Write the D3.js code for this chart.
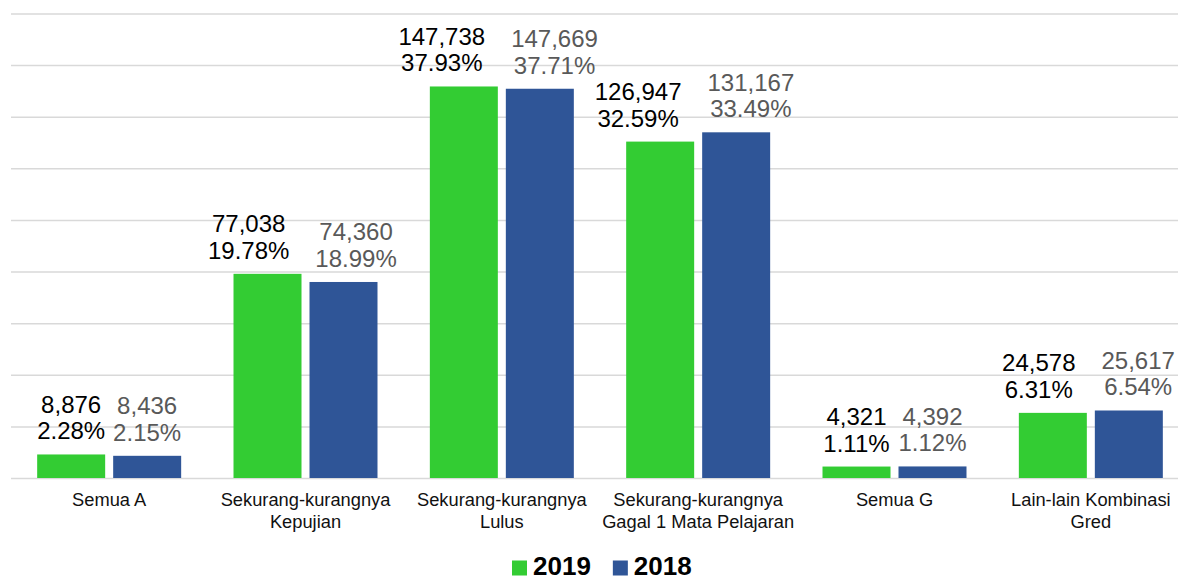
<!DOCTYPE html>
<html>
<head>
<meta charset="utf-8">
<script src="https://cdn.jsdelivr.net/npm/d3@7"></script>
<style>
  body { margin: 0; background: #fff; }
  svg { display: block; font-family: "Liberation Sans", Arial, sans-serif; }
  .grid line { stroke: #d9d9d9; stroke-width: 1.5; }
  .grid path { display: none; }
</style>
</head>
<body>
<svg id="chart" width="1178" height="581"></svg>
<script>
// categories and values
var categories = ["Semua A", "Sekurang-kurangnya Kepujian", "Sekurang-kurangnya Lulus",
  "Sekurang-kurangnya Gagal 1 Mata Pelajaran", "Semua G", "Lain-lain Kombinasi Gred"];
var years = ["2019", "2018"];
var count2019 = [8876, 77038, 147738, 126947, 4321, 24578];
var count2018 = [8436, 74360, 147669, 131167, 4392, 25617];
var pct2019 = [2.28, 19.78, 37.93, 32.59, 1.11, 6.31];
var pct2018 = [2.15, 18.99, 37.71, 33.49, 1.12, 6.54];
var yTicks = [0, 5, 10, 15, 20, 25, 30, 35, 40, 45];

var colors = { "2019": "#33cc33", "2018": "#2f5597" };
var labelColors = { "2019": "#000000", "2018": "#595959" };

var svg = d3.select("#chart"),
    width = +svg.attr("width");

var x0 = d3.scaleBand()
    .domain(categories)
    .range([11, 1189])
    .paddingInner(0.2666)
    .paddingOuter(0.1333);

var x1 = d3.scaleBand()
    .domain(years)
    .range([0, x0.bandwidth()])
    .paddingInner(0.10526);

var y = d3.scaleLinear()
    .domain([0, 45])
    .range([478, 13.5]);

// gridlines
svg.append("g")
  .attr("class", "grid")
  .attr("transform", "translate(11,0)")
  .call(d3.axisLeft(y).tickValues(yTicks).tickSize(-(width - 11)).tickFormat(""));

var rows = categories.map(function(c, i) {
  return {
    cat: c,
    bars: [
      { year: "2019", count: count2019[i], pct: pct2019[i] },
      { year: "2018", count: count2018[i], pct: pct2018[i] }
    ]
  };
});

var group = svg.selectAll(".cat")
  .data(rows)
  .enter().append("g")
    .attr("class", "cat")
    .attr("transform", function(d) { return "translate(" + x0(d.cat) + ",0)"; });

group.selectAll("rect")
  .data(function(d) { return d.bars; })
  .enter().append("rect")
    .attr("x", function(d) { return x1(d.year); })
    .attr("y", function(d) { return y(d.pct); })
    .attr("width", x1.bandwidth())
    .attr("height", function(d) { return y(0) - y(d.pct); })
    .attr("fill", function(d) { return colors[d.year]; });

var fmt = d3.format(",");

var labels = group.selectAll(".lbl")
  .data(function(d) { return d.bars; })
  .enter().append("text")
    .attr("class", "lbl")
    .attr("text-anchor", "middle")
    .style("font-size", "24px")
    .attr("fill", function(d) { return labelColors[d.year]; })
    .attr("x", function(d) { return x1(d.year) + x1.bandwidth() / 2; });

labels.append("tspan")
  .attr("x", function(d) { return x1(d.year) + x1.bandwidth() / 2; })
  .attr("y", function(d) { return y(d.pct) - 41.5; })
  .text(function(d) { return fmt(d.count); });

labels.append("tspan")
  .attr("x", function(d) { return x1(d.year) + x1.bandwidth() / 2; })
  .attr("y", function(d) { return y(d.pct) - 15; })
  .text(function(d) { return d.pct.toFixed(2) + "%"; });

// push neighbouring labels apart when they touch
group.each(function() {
  var pair = d3.select(this).selectAll(".lbl").nodes();
  var a = pair[0].getBBox(), b = pair[1].getBBox();
  var gap = b.x - (a.x + a.width);
  if (gap < 6) {
    var need = 26 - gap;
    d3.select(pair[0]).attr("transform", "translate(" + (-need * 0.6) + ",0)");
    d3.select(pair[1]).attr("transform", "translate(" + (need * 0.4) + ",0)");
  }
});

// category labels
function wrap(text, w) {
  text.each(function() {
    var t = d3.select(this),
        words = t.text().split(/\s+/),
        line = [], lineNo = 0,
        tx = t.attr("x"), ty = +t.attr("y");
    t.text(null);
    var ts = t.append("tspan").attr("x", tx).attr("y", ty);
    words.forEach(function(word) {
      line.push(word);
      ts.text(line.join(" "));
      if (ts.node().getComputedTextLength() > w && line.length > 1) {
        line.pop();
        ts.text(line.join(" "));
        line = [word];
        lineNo++;
        ts = t.append("tspan").attr("x", tx).attr("y", ty + lineNo * 22).text(word);
      }
    });
  });
}

svg.append("g").selectAll("text")
  .data(categories)
  .enter().append("text")
    .attr("x", function(d) { return x0(d) + x0.bandwidth() / 2; })
    .attr("y", 505.5)
    .attr("text-anchor", "middle")
    .style("font-size", "18.3px")
    .attr("fill", "#111")
    .text(function(d) { return d; })
    .call(wrap, x0.step() + 2);

// legend
var legend = svg.append("g").attr("transform", "translate(512,575)");
var lx = 0;
years.forEach(function(yr) {
  legend.append("rect")
    .attr("x", lx).attr("y", -14.5)
    .attr("width", 15).attr("height", 15)
    .attr("fill", colors[yr]);
  var t = legend.append("text")
    .attr("x", lx + 21).attr("y", 0)
    .style("font-size", "26px")
    .style("font-weight", "bold")
    .attr("fill", "#000")
    .text(yr);
  lx += 21 + t.node().getComputedTextLength() + 22;
});
</script>
</body>
</html>
